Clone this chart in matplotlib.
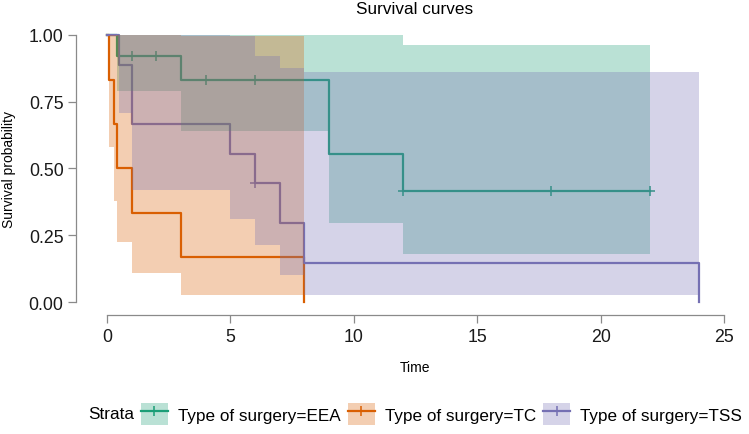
import matplotlib
matplotlib.use("Agg")
import matplotlib.pyplot as plt
import numpy as np
from matplotlib.patches import Patch
from matplotlib.lines import Line2D

plt.rcParams['font.family'] = ['Liberation Sans', 'DejaVu Sans']

# Kaplan-Meier steps
eea_t = [0, 0.4, 3, 9, 12, 22]
eea_s = [1, 0.923, 0.831, 0.554, 0.415, 0.415]
eea_up = [1, 1, 1, 1, 0.962, 0.962]
eea_lo = [1, 0.789, 0.641, 0.297, 0.179, 0.179]
eea_cens = [1, 2, 4, 6, 12, 18, 22]

tc_t = [0, 0.1, 0.3, 0.4, 1, 3, 8]
tc_s = [1, 0.833, 0.667, 0.5, 0.333, 0.167, 0]
tc_up = [1, 1, 1, 1, 1, 0.997, 0.997]
tc_lo = [1, 0.582, 0.378, 0.225, 0.108, 0.028, 0.028]
tc_cens = []

tss_t = [0, 0.5, 1, 5, 6, 7, 8, 24]
tss_s = [1, 0.889, 0.667, 0.556, 0.444, 0.296, 0.148, 0]
tss_up = [1, 1, 1, 0.997, 0.922, 0.875, 0.860, 0.860]
tss_lo = [1, 0.706, 0.420, 0.310, 0.214, 0.100, 0.026, 0.026]
tss_cens = [6]

labels = ["Type of surgery=EEA", "Type of surgery=TC", "Type of surgery=TSS"]
colors = ["#1B9E77", "#D95F02", "#7570B3"]

fig = plt.figure(figsize=(7.49, 4.35), dpi=100)
ax = fig.add_axes([76/749, 1-316.4/435, 679/749, 293.8/435])

series = [
    (eea_t, eea_s, eea_up, eea_lo, eea_cens),
    (tc_t, tc_s, tc_up, tc_lo, tc_cens),
    (tss_t, tss_s, tss_up, tss_lo, tss_cens),
]

for (t, s, up, lo, cens), col in zip(series, colors):
    ax.step(t, s, where='post', color=col, lw=1.6, zorder=2)
    if cens:
        cs = [s[np.searchsorted(t, c, side='right') - 1] for c in cens]
        ax.plot(cens, cs, ls='none', marker='+', color=col, ms=7, mew=1.1, zorder=2)

for (t, s, up, lo, cens), col in zip(series, colors):
    ax.fill_between(t, lo, up, step='post', color=col, alpha=0.3, lw=0, zorder=3)

ax.set_xlim(-1.25, 26.25)
ax.set_ylim(-0.05, 1.05)
ax.spines['top'].set_visible(False)
ax.spines['right'].set_visible(False)
for side in ['left', 'bottom']:
    ax.spines[side].set_color('#8a8a8a')
    ax.spines[side].set_linewidth(0.9)
ax.spines['left'].set_bounds(0, 1)
ax.spines['bottom'].set_bounds(0, 25)
ax.set_xticks([0, 5, 10, 15, 20, 25])
ax.set_yticks([0, 0.25, 0.5, 0.75, 1])
ax.set_yticklabels(["0.00", "0.25", "0.50", "0.75", "1.00"])
ax.tick_params(axis='both', colors='#8a8a8a', length=6, width=0.9, labelsize=12.8,
               labelcolor='#1a1a1a', pad=3)

fig.text(9/749, 1-170/435, "Survival probability", rotation=90, ha='center', va='center', fontsize=10)
fig.text(415/749, 1-368/435, "Time", ha='center', va='center', fontsize=10)
fig.text(415/749, 1-9/435, "Survival curves", ha='center', va='center', fontsize=12.3)

fig.text(88/749, 1-415/435, "Strata", ha='left', va='center', fontsize=12.3)
handles = []
for col in colors:
    handles.append((Patch(facecolor=col, alpha=0.3, lw=0),
                    Line2D([], [], color=col, lw=1.6, marker='+', ms=7, mew=1.1)))
fig.legend(handles, labels, loc='center left', bbox_to_anchor=(141/749, 1-415/435),
           ncol=3, frameon=False, fontsize=12.3, handlelength=1.58, handleheight=1.58,
           handletextpad=0.6, columnspacing=0.4, borderpad=0, borderaxespad=0)

fig.savefig("out.png", dpi=100)
